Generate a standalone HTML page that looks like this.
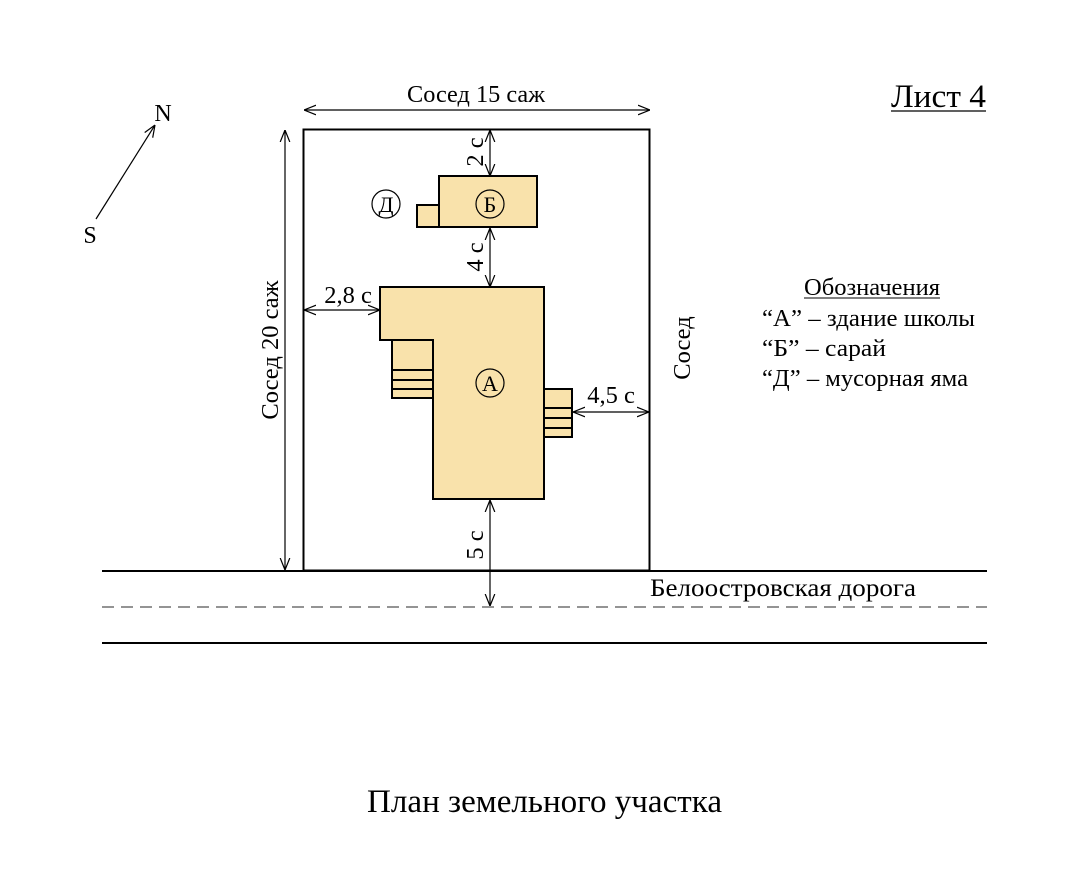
<!DOCTYPE html>
<html><head><meta charset="utf-8"><style>
html,body{margin:0;padding:0;background:#fff}
svg{display:block}
text{font-family:"Liberation Serif","Noto Serif CJK SC",serif;fill:#000}
</style></head><body>
<svg width="1092" height="876" viewBox="0 0 1092 876" xmlns="http://www.w3.org/2000/svg">
<defs>
<marker id="a" viewBox="0 0 10 10" refX="10" refY="5" markerWidth="12" markerHeight="12" markerUnits="userSpaceOnUse" orient="auto-start-reverse">
<path d="M0,1 L10,5 L0,9" fill="none" stroke="#000" stroke-width="1"/>
</marker>
</defs>
<rect width="1092" height="876" fill="#fff"/>
<line x1="102" y1="571" x2="987" y2="571" stroke="#000" stroke-width="2"/>
<line x1="102" y1="607" x2="987" y2="607" stroke="#555" stroke-width="1.3" stroke-dasharray="12,7"/>
<line x1="102" y1="643" x2="987" y2="643" stroke="#000" stroke-width="2"/>
<text x="650" y="596" font-size="25" textLength="266" lengthAdjust="spacingAndGlyphs">Белоостровская дорога</text>
<rect x="303.5" y="129.5" width="346" height="441" fill="none" stroke="#000" stroke-width="2"/>
<rect x="417" y="205" width="22" height="22" fill="#f9e2ab" stroke="#000" stroke-width="2"/>
<rect x="439" y="176" width="98" height="51" fill="#f9e2ab" stroke="#000" stroke-width="2"/>
<rect x="392" y="340" width="41" height="58" fill="#f9e2ab" stroke="#000" stroke-width="2"/>
<line x1="392" y1="370" x2="433" y2="370" stroke="#000" stroke-width="2"/>
<line x1="392" y1="380" x2="433" y2="380" stroke="#000" stroke-width="2"/>
<line x1="392" y1="389" x2="433" y2="389" stroke="#000" stroke-width="2"/>
<rect x="544" y="389" width="28" height="48" fill="#f9e2ab" stroke="#000" stroke-width="2"/>
<line x1="544" y1="408" x2="572" y2="408" stroke="#000" stroke-width="2"/>
<line x1="544" y1="418" x2="572" y2="418" stroke="#000" stroke-width="2"/>
<line x1="544" y1="428" x2="572" y2="428" stroke="#000" stroke-width="2"/>
<path d="M380,287 H544 V499 H433 V340 H380 Z" fill="#f9e2ab" stroke="#000" stroke-width="2"/>
<circle cx="490" cy="204" r="14" fill="none" stroke="#000" stroke-width="1.2"/>
<text x="490" y="212" font-size="22" text-anchor="middle">Б</text>
<circle cx="386" cy="204" r="14" fill="none" stroke="#000" stroke-width="1.2"/>
<text x="386" y="212" font-size="22" text-anchor="middle">Д</text>
<circle cx="490" cy="383" r="14" fill="none" stroke="#000" stroke-width="1.2"/>
<text x="490" y="391" font-size="22" text-anchor="middle">А</text>
<g stroke="#000" stroke-width="1.2" marker-start="url(#a)" marker-end="url(#a)">
<line x1="304" y1="110" x2="650" y2="110"/>
<line x1="285" y1="130" x2="285" y2="570"/>
<line x1="490" y1="130" x2="490" y2="176"/>
<line x1="490" y1="228" x2="490" y2="287"/>
<line x1="490" y1="500" x2="490" y2="606"/>
<line x1="304" y1="310" x2="380" y2="310"/>
<line x1="573" y1="412" x2="649" y2="412"/>
</g>
<text x="476" y="102" font-size="24.5" text-anchor="middle" textLength="138" lengthAdjust="spacingAndGlyphs">Сосед 15 саж</text>
<text x="348" y="303" font-size="24.5" text-anchor="middle">2,8 с</text>
<text x="611" y="403" font-size="24.5" text-anchor="middle">4,5 с</text>
<text transform="translate(483,152) rotate(-90)" font-size="24.5" text-anchor="middle">2 с</text>
<text transform="translate(483,257) rotate(-90)" font-size="24.5" text-anchor="middle">4 с</text>
<text transform="translate(483,545) rotate(-90)" font-size="24.5" text-anchor="middle">5 с</text>
<text transform="translate(278,350) rotate(-90)" font-size="24.5" text-anchor="middle">Сосед 20 саж</text>
<text transform="translate(690,348) rotate(-90)" font-size="24.5" text-anchor="middle">Сосед</text>
<line x1="96" y1="219" x2="155" y2="125" stroke="#000" stroke-width="1.2" marker-end="url(#a)"/>
<text x="163" y="121" font-size="24" text-anchor="middle">N</text>
<text x="90" y="243" font-size="24" text-anchor="middle">S</text>
<text x="891" y="107" font-size="33" textLength="95" lengthAdjust="spacingAndGlyphs">Лист 4</text>
<line x1="891" y1="111" x2="986" y2="111" stroke="#000" stroke-width="1.3"/>
<text x="804" y="295" font-size="24.5" textLength="136" lengthAdjust="spacingAndGlyphs">Обозначения</text>
<line x1="804" y1="298" x2="940" y2="298" stroke="#000" stroke-width="1"/>
<text x="762" y="326" font-size="24.5" textLength="213" lengthAdjust="spacingAndGlyphs">“А” – здание школы</text>
<text x="762" y="356" font-size="24.5" textLength="124" lengthAdjust="spacingAndGlyphs">“Б” – сарай</text>
<text x="762" y="386" font-size="24.5" textLength="206" lengthAdjust="spacingAndGlyphs">“Д” – мусорная яма</text>
<text x="367" y="812" font-size="33" textLength="355" lengthAdjust="spacingAndGlyphs">План земельного участка</text>
</svg>
</body></html>
